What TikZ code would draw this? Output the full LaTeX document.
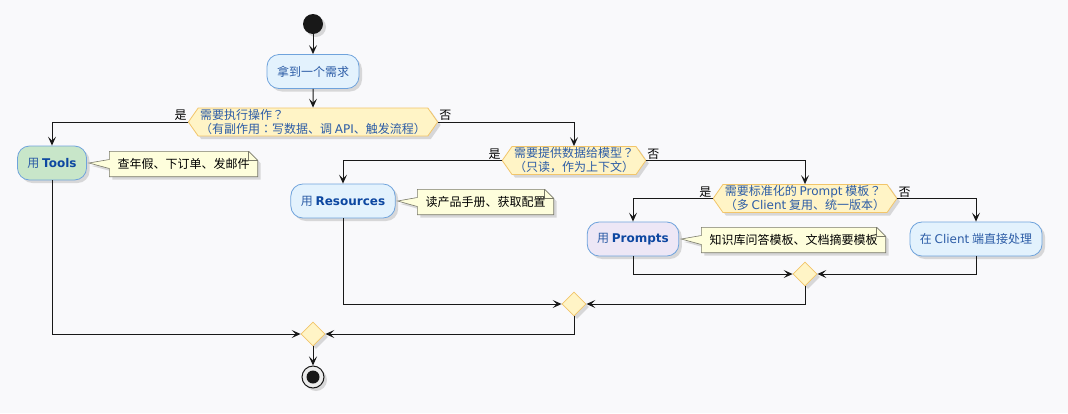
\documentclass[tikz,border=0pt]{standalone}
\usepackage{fontspec}
\setmainfont{Noto Sans CJK SC}
\newfontfamily\latinfont{DejaVu Sans}
\newfontfamily\jpfont{Noto Sans CJK JP}
\usepackage{xcolor}
\usepackage{tikz}
\usetikzlibrary{shapes.geometric,shapes.symbols,arrows.meta,shadows}

\definecolor{bgcol}{HTML}{F9F9FB}
\definecolor{actfill}{HTML}{E3F2FD}
\definecolor{actborder}{HTML}{6FA3DC}
\definecolor{actblue}{HTML}{2C5CA6}
\definecolor{kwblue}{HTML}{0D47A1}
\definecolor{toolfill}{HTML}{C8E6C9}
\definecolor{promptfill}{HTML}{EDE7F6}
\definecolor{decfill}{HTML}{FFF4C6}
\definecolor{decborder}{HTML}{F2C56A}
\definecolor{notefill}{HTML}{FEFEDC}
\definecolor{noteborder}{HTML}{7A7A6A}
\definecolor{linecol}{HTML}{181818}

\newcommand\latinw[1]{{\latinfont #1}}
\newcommand\keyw[1]{{\latinfont\bfseries\color{kwblue}#1}}
\newcommand\fwq{{\jpfont ？}}
\newcommand\fwc{{\jpfont ：}}
% note with folded corner and a wedge pointing at #2
\newcommand\drawnote[2]{%
  \path[notebox] (#1.north west) -- ([xshift=-9pt]#1.north east)
    -- ([yshift=-9pt]#1.north east) -- (#1.south east) -- (#1.south west)
    -- ([yshift=-4.5pt]#1.west) -- ([xshift=2pt]#2.east)
    -- ([yshift=4.5pt]#1.west) -- cycle;
  \draw[draw=noteborder, line width=0.6pt] ([xshift=-9pt]#1.north east)
    -- ([xshift=-9pt,yshift=-9pt]#1.north east) -- ([yshift=-9pt]#1.north east);
}

\begin{document}
\begin{tikzpicture}[
  x=1pt, y=-1pt,
  every node/.style={font=\fontsize{12}{14}\selectfont},
  shad/.style={drop shadow={shadow xshift=3pt, shadow yshift=-3pt, opacity=0.28}},
  act/.style={draw=actborder, fill=actfill, rounded corners=12pt,
              minimum height=34pt, inner xsep=10pt, text=actblue,
              line width=0.8pt, shad},
  dec/.style={signal, signal to=west and east, signal pointer angle=110,
              draw=decborder, fill=decfill, text=actblue, align=left,
              minimum height=28pt, inner xsep=2pt, inner ysep=1pt,
              line width=0.8pt, shad},
  merge/.style={diamond, draw=decborder, fill=decfill, line width=0.8pt,
                minimum width=24pt, minimum height=24pt, inner sep=0pt, shad},
  notetxt/.style={inner xsep=8pt, minimum height=25pt},
  notebox/.style={draw=noteborder, fill=notefill, line width=0.6pt, shad},
  arr/.style={-{Stealth[length=9pt, width=8pt, inset=4pt]}, line width=1pt, draw=linecol},
  lbl/.style={inner sep=1pt, text=black}
]
\useasboundingbox[fill=bgcol] (0,0) rectangle (1068,413);

\node[circle, fill=linecol, minimum size=20pt, inner sep=0pt, shad] (start) at (313,24) {};
\node[act] (need) at (313,71.5) {拿到一个需求};

\node[dec] (dec1) at (313,122) {需要执行操作\fwq\\（有副作用\fwc 写数据、调 \latinw{API}、触发流程）};
\node[act, fill=toolfill] (tools) at (52,163) {用 \keyw{Tools}};
\node[notetxt] (note1) at (183.5,164) {查年假、下订单、发邮件};

\node[dec] (dec2) at (574,160.5) {需要提供数据给模型\fwq\\（只读，作为上下文）};
\node[act] (res) at (343,201) {用 \keyw{Resources}};
\node[notetxt] (note2) at (485.5,202) {读产品手册、获取配置};

\node[dec] (dec3) at (805,198.5) {需要标准化的 \latinw{Prompt} 模板\fwq\\（多 \latinw{Client} 复用、统一版本）};
\node[act, fill=promptfill] (prompts) at (633,239) {用 \keyw{Prompts}};
\node[notetxt] (note3) at (793.5,240) {知识库问答模板、文档摘要模板};
\node[act] (client) at (976,239) {在 \latinw{Client} 端直接处理};

\node[merge] (merge3) at (805,274) {};
\node[merge] (merge2) at (574,304) {};
\node[merge] (merge1) at (313,334) {};
\node[circle, draw=linecol, line width=1pt, fill=white!85!gray, minimum size=22pt,
      inner sep=0pt, shad,
      path picture={\fill[linecol] (path picture bounding box.center) circle (6.5pt);}]
  (stop) at (313,377) {};

% notes drawn behind their text
\begin{scope}
\drawnote{note1}{tools}
\drawnote{note2}{res}
\drawnote{note3}{prompts}
\end{scope}
\node[notetxt] at (note1) {查年假、下订单、发邮件};
\node[notetxt] at (note2) {读产品手册、获取配置};
\node[notetxt] at (note3) {知识库问答模板、文档摘要模板};

\draw[arr] (start) -- (need);
\draw[arr] (need) -- (dec1);
\draw[arr] (dec1.west) -| (tools.north);
\draw[arr] (dec1.east) -| (dec2.north);
\draw[arr] (dec2.west) -| (res.north);
\draw[arr] (dec2.east) -| (dec3.north);
\draw[arr] (dec3.west) -| (prompts.north);
\draw[arr] (dec3.east) -| (client.north);
\node[lbl, anchor=south east] (yes1) at (dec1.west) {是};
\node[lbl, anchor=south west] (no1) at (dec1.east) {否};
\node[lbl, anchor=south east] (yes2) at (dec2.west) {是};
\node[lbl, anchor=south west] (no2) at (dec2.east) {否};
\node[lbl, anchor=south east] (yes3) at (dec3.west) {是};
\node[lbl, anchor=south west] (no3) at (dec3.east) {否};

\draw[arr] (prompts.south) |- (merge3.west);
\draw[arr] (client.south) |- (merge3.east);
\draw[arr] (res.south) |- (merge2.west);
\draw[arr] (merge3.south) |- (merge2.east);
\draw[arr] (tools.south) |- (merge1.west);
\draw[arr] (merge2.south) |- (merge1.east);
\draw[arr] (merge1) -- (stop);
\end{tikzpicture}
\end{document}
